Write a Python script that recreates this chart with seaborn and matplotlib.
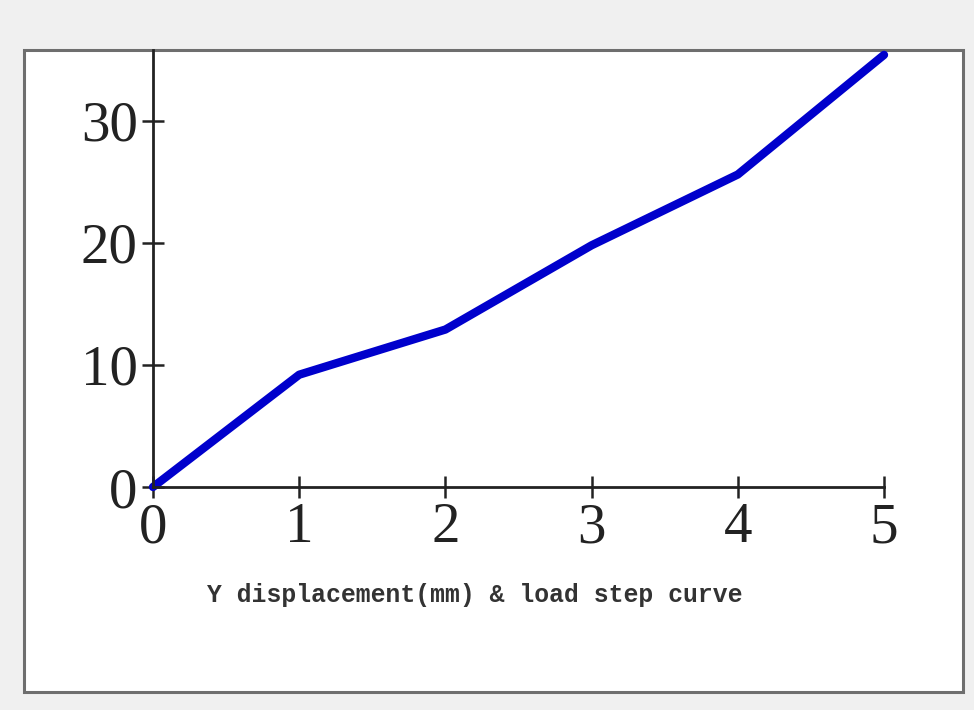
import matplotlib
matplotlib.use('Agg')
import matplotlib.pyplot as plt
import seaborn as sns
from matplotlib.patches import Rectangle

# load step vs Y displacement
load_step = [0, 1, 2, 3, 4, 5]
y_disp = [0, 9.2, 12.9, 19.8, 25.6, 35.4]
xticks = [0, 1, 2, 3, 4, 5]
yticks = [0, 10, 20, 30]

sns.set_style('white')
plt.rcParams['font.family'] = ['Liberation Serif', 'DejaVu Serif']

fig = plt.figure(figsize=(9.74, 7.1), dpi=100)
fig.patch.set_facecolor('#f0f0f0')

# white panel with grey frame (behind the axes)
panel = Rectangle((24/974, 1-692/710), (963-24)/974, (692-50)/710,
                  transform=fig.transFigure, facecolor='white',
                  edgecolor='#6e6e6e', linewidth=2.2, zorder=-5)
fig.patches.append(panel)

ax = fig.add_axes([153/974, 1-487/710, (884-153)/974, (487-50)/710])
ax.set_facecolor('none')
ax.set_zorder(2)

sns.lineplot(x=load_step, y=y_disp, ax=ax, color='#0000cc', linewidth=6, clip_on=False)

ax.set_xlim(0, 5)
ax.set_ylim(0, 35.8)
ax.set_xticks(xticks)
ax.set_yticks(yticks)
ax.tick_params(bottom=True, left=True, direction='inout', length=16, width=1.8,
               color='#222222', labelsize=41, labelcolor='#222222', pad=3)

sns.despine(ax=ax)
for s in ['left', 'bottom']:
    ax.spines[s].set_linewidth(2)
    ax.spines[s].set_color('#222222')

fig.text(475/974, 1-595/710, 'Y displacement(mm) & load step curve',
         ha='center', va='center', fontsize=17.8, fontweight='bold',
         family=['Liberation Mono', 'DejaVu Sans Mono'], color='#333333')

fig.savefig('out.png', dpi=100, facecolor=fig.get_facecolor())
